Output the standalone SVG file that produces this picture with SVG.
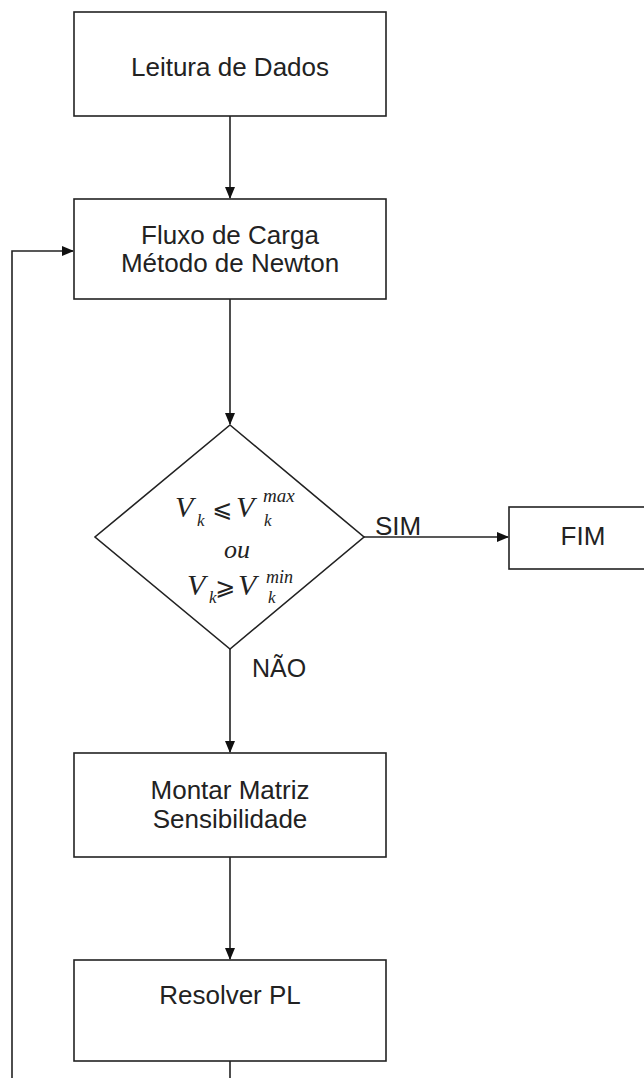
<svg xmlns="http://www.w3.org/2000/svg" width="644" height="1078" viewBox="0 0 644 1078">
<style>
.box{fill:#fff;stroke:#222;stroke-width:1.6}
.lbl{font-family:"Liberation Sans",Arial,sans-serif;font-size:26px;fill:#222;text-anchor:middle}
.edge{fill:none;stroke:#222;stroke-width:1.6}
.m{font-family:"Liberation Serif","Times New Roman",serif;font-style:italic;fill:#222}
.op{font-family:"DejaVu Sans","Liberation Serif",serif;fill:#222}
</style>
<defs>
<marker id="arr" markerWidth="12" markerHeight="10" refX="11" refY="5" orient="auto" markerUnits="userSpaceOnUse">
<path d="M0,0 L12,5 L0,10 Z" fill="#111"/>
</marker>
</defs>
<rect width="644" height="1078" fill="#fff"/>
<g id="connectors">
<line class="edge" x1="230" y1="116" x2="230" y2="198" marker-end="url(#arr)"/>
<line class="edge" x1="230" y1="299" x2="230" y2="424" marker-end="url(#arr)"/>
<line class="edge" x1="364" y1="537" x2="508" y2="537" marker-end="url(#arr)"/>
<line class="edge" x1="230" y1="649" x2="230" y2="752" marker-end="url(#arr)"/>
<line class="edge" x1="230" y1="857" x2="230" y2="959" marker-end="url(#arr)"/>
<line class="edge" x1="230" y1="1061" x2="230" y2="1080"/>
<polyline class="edge" points="12,1080 12,251 73,251" marker-end="url(#arr)"/>
<text class="lbl" x="398" y="535">SIM</text>
<text class="lbl" x="279" y="677" style="font-size:25px">NÃO</text>
</g>
<g id="leitura">
<rect class="box" x="74" y="12" width="312" height="104"/>
<text class="lbl" x="230" y="76">Leitura de Dados</text>
</g>
<g id="fluxo">
<rect class="box" x="74" y="199" width="312" height="100"/>
<text class="lbl" x="230" y="244">Fluxo de Carga</text>
<text class="lbl" x="230" y="272">Método de Newton</text>
</g>
<g id="decisao">
<polygon class="box" points="230,425 364,537 230,649 95,537"/>
<text class="m" x="175" y="517" font-size="30">V</text>
<text class="m" x="197" y="526" font-size="17">k</text>
<text class="op" x="212" y="517" font-size="24">⩽</text>
<text class="m" x="236" y="517" font-size="30">V</text>
<text class="m" x="263" y="502" font-size="19">max</text>
<text class="m" x="264" y="526" font-size="17">k</text>
<text class="m" x="237" y="558" font-size="26" text-anchor="middle">ou</text>
<text class="m" x="187" y="595" font-size="30">V</text>
<text class="m" x="209" y="603" font-size="17">k</text>
<text class="op" x="215" y="595" font-size="24">⩾</text>
<text class="m" x="238" y="595" font-size="30">V</text>
<text class="m" x="266" y="583" font-size="18">min</text>
<text class="m" x="268" y="603" font-size="17">k</text>
</g>
<g id="fim">
<rect class="box" x="509" y="507" width="150" height="62"/>
<text class="lbl" x="583" y="545">FIM</text>
</g>
<g id="montar">
<rect class="box" x="74" y="753" width="312" height="104"/>
<text class="lbl" x="230" y="799">Montar Matriz</text>
<text class="lbl" x="230" y="828">Sensibilidade</text>
</g>
<g id="resolver">
<rect class="box" x="74" y="960" width="312" height="101"/>
<text class="lbl" x="230" y="1004">Resolver PL</text>
</g>
</svg>
